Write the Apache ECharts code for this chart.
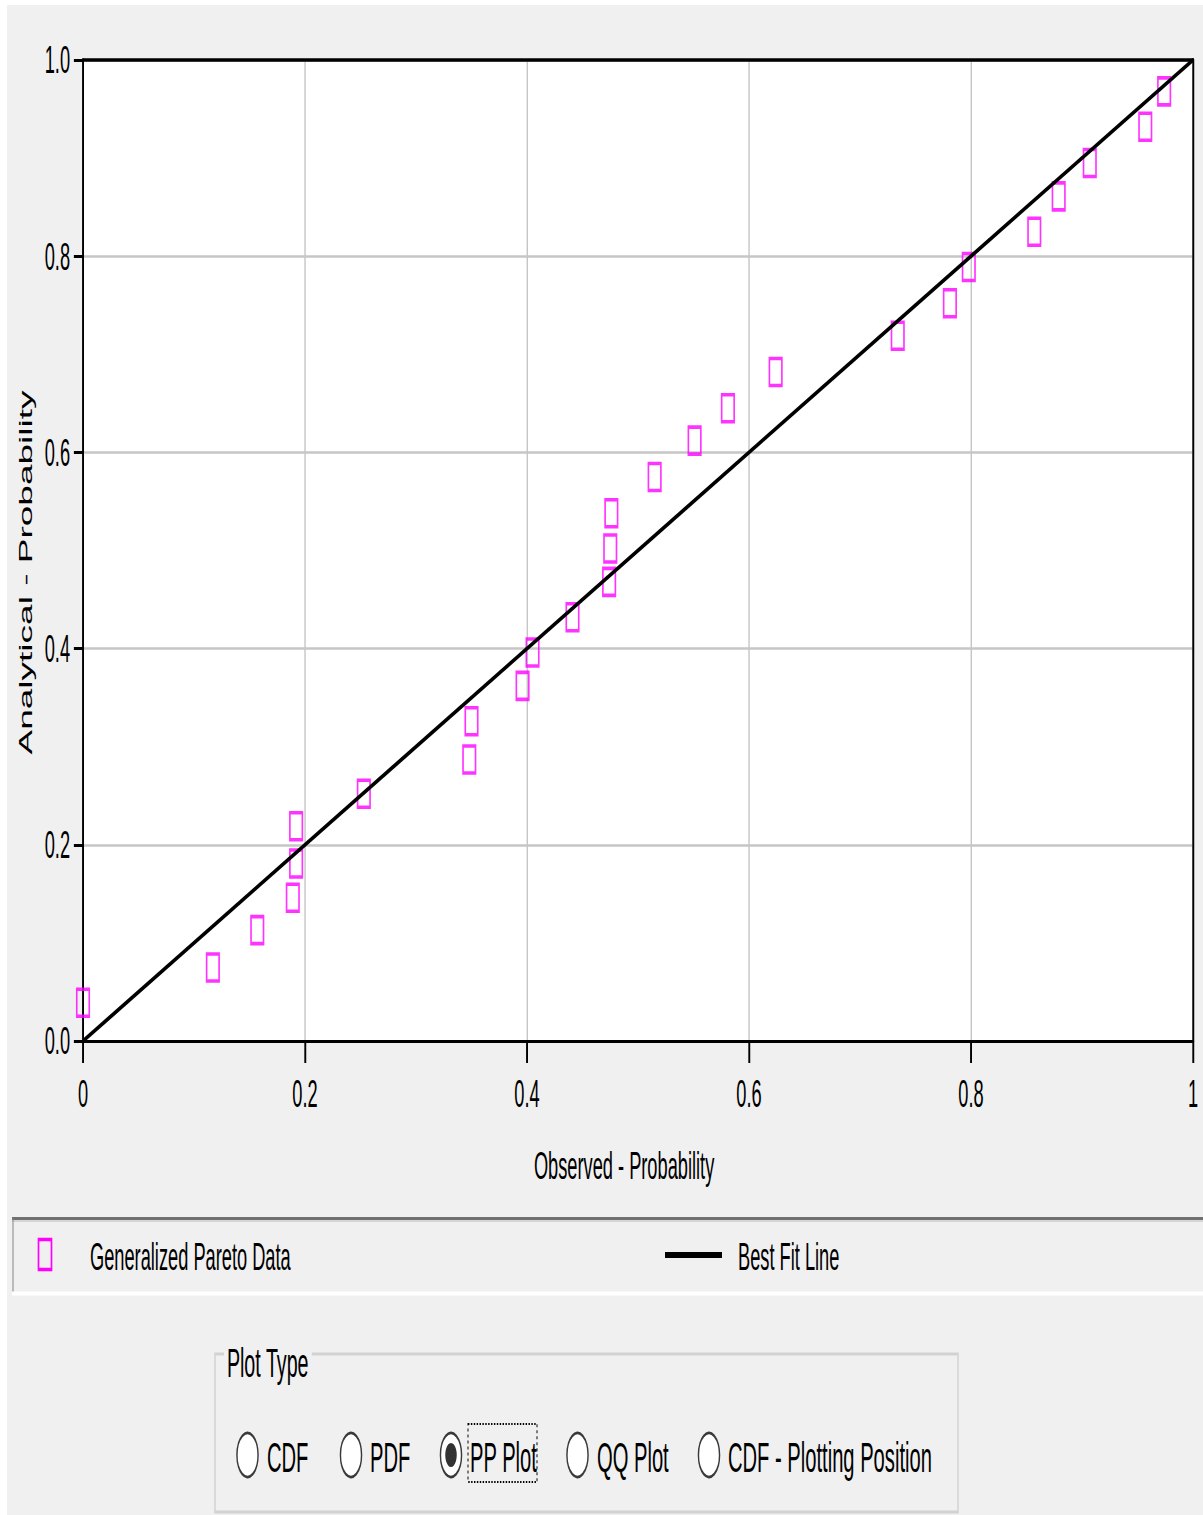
<!DOCTYPE html>
<html>
<head>
<meta charset="utf-8">
<script src="https://cdn.jsdelivr.net/npm/echarts@6/dist/echarts.min.js"></script>
<style>
    html, body { margin: 0; padding: 0; background: #fff; overflow: hidden; }
    #panel { position: absolute; left: 7px; top: 5px; width: 1196px; height: 1510px; background: #f0f0f0; }
    /* the picture is squeezed sideways, so the chart is drawn wide and scaled back */
    #main { position: absolute; left: 0; top: 0; height: 1515px; transform-origin: 0 0; }
</style>
</head>
<body>
<div id="panel"></div>
<div id="main"></div>
<script>
// data
var observed = [0.000, 0.117, 0.157, 0.189, 0.192, 0.192, 0.253, 0.348, 0.350, 0.396, 0.405, 0.441, 0.474, 0.475, 0.476,
    0.515, 0.551, 0.581, 0.624, 0.734, 0.781, 0.798, 0.857, 0.879, 0.907, 0.957, 0.974];
var analytical = [0.039, 0.075, 0.113, 0.146, 0.181, 0.219, 0.252, 0.287, 0.326, 0.362, 0.396, 0.432, 0.468, 0.502, 0.538,
    0.575, 0.612, 0.645, 0.682, 0.719, 0.752, 0.789, 0.825, 0.861, 0.895, 0.932, 0.968];
var fitLine = [[0, 0], [1, 1]];
var xTickLabels = ['0', '0.2', '0.4', '0.6', '0.8', '1'];
var yTickLabels = ['0.0', '0.2', '0.4', '0.6', '0.8', '1.0'];
var seriesNames = ['Generalized Pareto Data', 'Best Fit Line'];
var plotTypes = ['CDF', 'PDF', 'PP Plot', 'QQ Plot', 'CDF - Plotting Position'];
var selectedPlotType = 'PP Plot';

var SX = 0.48;
var FONT = "'Liberation Sans', Arial, sans-serif";
var W = Math.ceil(1203 / SX);

// screen x -> drawing x
function u(x) {
    return x / SX;
}

function pairs(xs, ys) {
    return xs.map(function (x, i) { return [x, ys[i]]; });
}

function initChart(dom) {
    dom.style.width = W + 'px';
    dom.style.transform = 'scaleX(' + SX + ')';
    var chart = echarts.init(dom, null, { renderer: 'svg', width: W, height: 1515 });

    var graphics = [];
    // legend strip
    graphics.push({ type: 'rect', shape: { x: u(12), y: 1217, width: W, height: 78 }, style: { fill: '#f0f0f0' } });
    graphics.push({ type: 'line', shape: { x1: u(12), y1: 1218.5, x2: W, y2: 1218.5 }, style: { stroke: '#707070', lineWidth: 3 } });
    graphics.push({ type: 'line', shape: { x1: u(12), y1: 1221, x2: W, y2: 1221 }, style: { stroke: '#a8a8a8', lineWidth: 1 } });
    graphics.push({ type: 'line', shape: { x1: u(13), y1: 1218, x2: u(13), y2: 1295 }, style: { stroke: '#808080', lineWidth: 2 } });
    graphics.push({ type: 'line', shape: { x1: u(12), y1: 1293.5, x2: W, y2: 1293.5 }, style: { stroke: '#ffffff', lineWidth: 4 } });
    graphics.push({ type: 'rect', shape: { x: u(38.5), y: 1239.5, width: u(13), height: 30 }, style: { fill: 'none', stroke: '#ff00ff', lineWidth: 3.5 } });
    graphics.push({ type: 'text', x: u(90), y: 1257, style: { text: seriesNames[0], font: '38px ' + FONT, fill: '#000', verticalAlign: 'middle' } });
    graphics.push({ type: 'line', shape: { x1: u(665), y1: 1255, x2: u(722), y2: 1255 }, style: { stroke: '#000', lineWidth: 6 } });
    graphics.push({ type: 'text', x: u(738), y: 1257, style: { text: seriesNames[1], font: '38px ' + FONT, fill: '#000', verticalAlign: 'middle' } });

    // Plot Type group box
    graphics.push({ type: 'rect', shape: { x: u(215), y: 1354, width: u(958) - u(215), height: 158 }, style: { fill: 'none', stroke: '#d2d2d2', lineWidth: 3 } });
    graphics.push({ type: 'text', x: u(224), y: 1363, style: { text: 'Plot Type', font: '41px ' + FONT, fill: '#000', verticalAlign: 'middle', backgroundColor: '#f0f0f0', padding: [0, 6, 0, 6] } });

    var radioX = [247.5, 351, 451, 577.5, 709];
    var labelX = [267, 370, 470, 597, 728];
    plotTypes.forEach(function (name, i) {
        graphics.push({ type: 'circle', shape: { cx: u(radioX[i]), cy: 1455, r: 22 }, style: { fill: '#fff', stroke: '#3a3a3a', lineWidth: 3 } });
        if (name === selectedPlotType) {
            graphics.push({ type: 'circle', shape: { cx: u(radioX[i]), cy: 1455, r: 12 }, style: { fill: '#333' } });
            graphics.push({ type: 'rect', shape: { x: u(468), y: 1424, width: u(537) - u(468), height: 58 }, style: { fill: 'none', stroke: '#000', lineWidth: 2, lineDash: [3, 3] } });
        }
        graphics.push({ type: 'text', x: u(labelX[i]), y: 1457, style: { text: name, font: '42px ' + FONT, fill: '#000', verticalAlign: 'middle' } });
    });

    var option = {
        animation: false,
        grid: {
            show: true,
            left: u(83),
            top: 60,
            width: u(1193) - u(83),
            height: 981,
            backgroundColor: '#fff',
            borderWidth: 0
        },
        xAxis: [{
            type: 'value',
            min: 0,
            max: 1,
            interval: 0.2,
            name: 'Observed - Probability',
            nameLocation: 'middle',
            nameGap: 106,
            nameTextStyle: { fontFamily: FONT, fontSize: 38, color: '#000', padding: [0, 58, 0, 0] },
            axisLine: { onZero: false, lineStyle: { color: '#000', width: 3 } },
            axisTick: { length: 22, lineStyle: { color: '#000', width: 4 } },
            axisLabel: {
                margin: 34,
                fontFamily: FONT,
                fontSize: 38,
                color: '#000',
                formatter: function (v) { return xTickLabels[Math.round(v * 5)]; }
            },
            splitLine: { lineStyle: { color: '#c6c6c6', width: 3 } }
        }, {
            type: 'value',
            min: 0,
            max: 1,
            position: 'top',
            axisLine: { onZero: false, lineStyle: { color: '#000', width: 3.5 } },
            axisTick: { show: false },
            axisLabel: { show: false },
            splitLine: { show: false }
        }],
        yAxis: [{
            type: 'value',
            min: 0,
            max: 1,
            interval: 0.2,
            name: 'Analytical - Probability',
            nameLocation: 'middle',
            nameGap: 100,
            nameTextStyle: { fontFamily: FONT, fontSize: 37, color: '#000', padding: [0, 44, 0, 0] },
            axisLine: { show: true, onZero: false, lineStyle: { color: '#000', width: 4 } },
            axisTick: { length: 19, lineStyle: { color: '#000', width: 3 } },
            axisLabel: {
                margin: 27,
                fontFamily: FONT,
                fontSize: 38,
                color: '#000',
                formatter: function (v) { return yTickLabels[Math.round(v * 5)]; }
            },
            splitLine: { lineStyle: { color: '#c6c6c6', width: 2.5 } }
        }, {
            type: 'value',
            min: 0,
            max: 1,
            position: 'right',
            axisLine: { show: true, onZero: false, lineStyle: { color: '#000', width: 4 } },
            axisTick: { show: false },
            axisLabel: { show: false },
            splitLine: { show: false }
        }],
        series: [{
            name: seriesNames[0],
            type: 'scatter',
            data: pairs(observed, analytical),
            symbol: 'rect',
            symbolSize: [26, 27],
            itemStyle: { color: 'rgba(0,0,0,0)', borderColor: '#ff00ff', borderWidth: 3.5 },
            z: 2
        }, {
            name: seriesNames[1],
            type: 'line',
            data: fitLine,
            showSymbol: false,
            lineStyle: { color: '#000', width: 4.5 },
            z: 3
        }],
        graphic: graphics
    };

    chart.setOption(option);
    return chart;
}

initChart(document.getElementById('main'));
</script>
</body>
</html>
